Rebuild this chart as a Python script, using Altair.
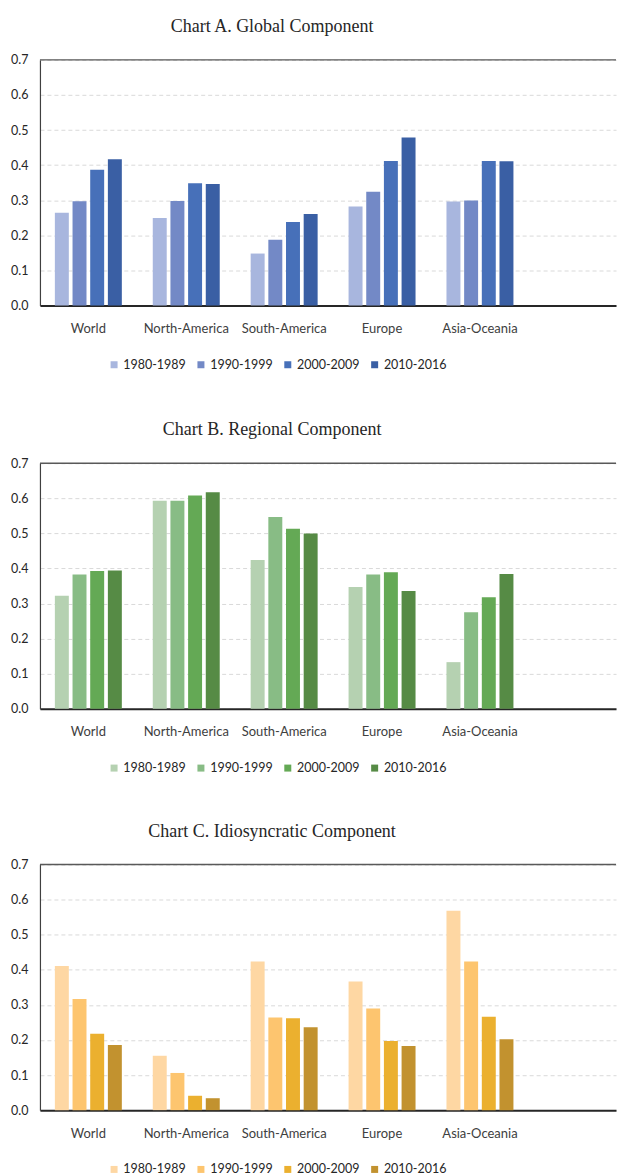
import altair as alt
import pandas as pd

regions = ["World", "North-America", "South-America", "Europe", "Asia-Oceania"]
periods = ["1980-1989", "1990-1999", "2000-2009", "2010-2016"]

global_1980 = [0.264, 0.249, 0.148, 0.282, 0.296]
global_1990 = [0.297, 0.298, 0.187, 0.324, 0.299]
global_2000 = [0.387, 0.348, 0.238, 0.412, 0.412]
global_2010 = [0.417, 0.346, 0.261, 0.479, 0.411]

regional_1980 = [0.322, 0.593, 0.424, 0.347, 0.133]
regional_1990 = [0.383, 0.593, 0.547, 0.383, 0.275]
regional_2000 = [0.393, 0.608, 0.513, 0.389, 0.318]
regional_2010 = [0.394, 0.617, 0.500, 0.336, 0.384]

idio_1980 = [0.411, 0.155, 0.424, 0.367, 0.568]
idio_1990 = [0.317, 0.106, 0.264, 0.290, 0.424]
idio_2000 = [0.218, 0.041, 0.262, 0.197, 0.266]
idio_2010 = [0.186, 0.034, 0.236, 0.183, 0.202]

y_ticks = [0.0, 0.1, 0.2, 0.3, 0.4, 0.5, 0.6, 0.7]
y_max = 0.7

blues = ["#a8b6de", "#7389c6", "#4770b9", "#3a5fa4"]
greens = ["#b5d1b1", "#88bc85", "#64a955", "#568b45"]
oranges = ["#fed7a3", "#fdc56f", "#ebb02f", "#c2922f"]

FONT = "Lato"
W = 577
H = 246


def make_df(series):
    rows = []
    for p, vals in zip(periods, series):
        for r, v in zip(regions, vals):
            rows.append({"region": r, "period": p, "value": v})
    return pd.DataFrame(rows)


def panel(title, series, colors):
    df = make_df(series)
    yscale = alt.Scale(domain=[0, y_max], nice=False)
    yaxis = alt.Axis(title=None, values=y_ticks, format=".1f", labelFont=FONT,
                     labelFontSize=12.5, labelColor="#262626", ticks=False,
                     labelOverlap=False, labelPadding=12,
                     domainColor="#404040", domainWidth=1.2,
                     grid=True, gridColor="#d9d9d9", gridDash=[4, 3], gridWidth=1)
    bars = alt.Chart(df).mark_bar().encode(
        x=alt.X("region:N", sort=regions,
                scale=alt.Scale(paddingInner=0.316, paddingOuter=0.6, align=0.127),
                axis=alt.Axis(title=None, labelAngle=0, labelFont=FONT, labelFontSize=13,
                              labelColor="#404040", ticks=False, labelPadding=17,
                              domainColor="#262626", domainWidth=2)),
        xOffset=alt.XOffset("period:N", sort=periods,
                            scale=alt.Scale(paddingInner=0.21, paddingOuter=0)),
        y=alt.Y("value:Q", scale=yscale, axis=yaxis),
        color=alt.Color("period:N", sort=periods,
                        scale=alt.Scale(domain=periods, range=colors),
                        legend=alt.Legend(title=None, orient="none", direction="horizontal",
                                          legendX=68, legendY=299, symbolType="square",
                                          symbolSize=49, symbolStrokeWidth=0,
                                          labelFont=FONT, labelFontSize=12.5,
                                          labelColor="#262626", labelOffset=3,
                                          columnPadding=8)),
    )
    top = alt.Chart(pd.DataFrame({"value": [y_max]})).mark_rule(
        color="#595959", strokeWidth=1.5).encode(
        y=alt.Y("value:Q", scale=yscale, axis=yaxis))
    return alt.layer(bars, top).properties(
        width=W, height=H,
        title=alt.TitleParams(title, font="Liberation Serif", fontSize=18,
                              fontWeight="normal", color="#262626", anchor="middle",
                              dx=-56, offset=18),
    )


a = panel("Chart A. Global Component",
          [global_1980, global_1990, global_2000, global_2010], blues)
b = panel("Chart B. Regional Component",
          [regional_1980, regional_1990, regional_2000, regional_2010], greens)
c = panel("Chart C. Idiosyncratic Component",
          [idio_1980, idio_1990, idio_2000, idio_2010], oranges)

ab = alt.vconcat(a, b, spacing=50).resolve_scale(
    color="independent").resolve_legend(color="independent")
chart = alt.vconcat(ab, c, spacing=48).resolve_scale(
    color="independent").resolve_legend(color="independent").properties(
    padding={"left": 2, "top": 9, "right": 0, "bottom": 0}
).configure_view(strokeWidth=0)

chart.save("out.html", embed_options={"renderer": "svg", "actions": False})
